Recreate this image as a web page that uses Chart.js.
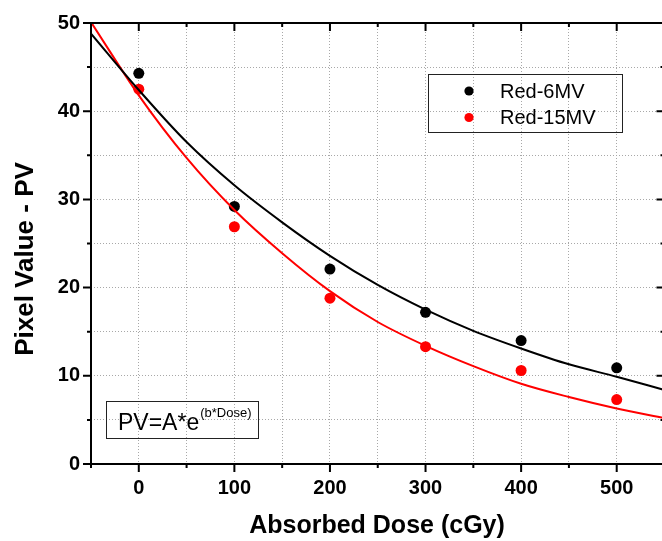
<!DOCTYPE html>
<html>
<head>
<meta charset="utf-8">
<script src="https://cdn.jsdelivr.net/npm/chart.js@4/dist/chart.umd.min.js"></script>
<style>
  html, body { margin: 0; padding: 0; background: #fff; overflow: hidden; }
  #wrap { width: 670px; height: 541px; }
</style>
</head>
<body>
<div id="wrap"><canvas id="doseChart" width="670" height="541"></canvas></div>
<script>
// measured points
const doses = [0, 100, 200, 300, 400, 500];
const red6MV = [44.3, 29.2, 22.1, 17.2, 14.0, 10.9];
const red15MV = [42.5, 26.9, 18.8, 13.3, 10.6, 7.3];

// fitted curves, every 50 cGy
const fitDoses = [-50, 0, 50, 100, 150, 200, 250, 300, 350, 400, 450, 500, 550];
const fit6MV = [48.8, 42.4, 36.5, 31.6, 27.4, 23.6, 20.3, 17.5, 15.1, 13.1, 11.3, 9.9, 8.4];
const fit15MV = [50.1, 41.8, 34.7, 28.8, 23.9, 19.6, 16.1, 13.4, 11.1, 9.1, 7.6, 6.3, 5.2];

const seriesNames = ['Red-6MV', 'Red-15MV'];
const seriesColors = ['#000000', '#ff0000'];
const xLabelTicks = [0, 100, 200, 300, 400, 500];
const yLabelTicks = [0, 10, 20, 30, 40, 50];

const toXY = (xs, ys) => xs.map((x, i) => ({ x: x, y: ys[i] }));
const FONT = '"Liberation Sans", Arial, sans-serif';

// frame, tick marks, titles, legend and equation box
const decorations = {
    id: 'decorations',
    afterDraw(chart) {
        const ctx = chart.ctx;
        const a = chart.chartArea;
        const xs = chart.scales.x, ys = chart.scales.y;
        ctx.save();
        ctx.strokeStyle = '#000';
        ctx.lineWidth = 2;
        ctx.strokeRect(a.left, a.top, a.right - a.left, a.bottom - a.top);

        ctx.beginPath();
        xs.ticks.forEach(t => {
            const px = xs.getPixelForValue(t.value);
            const major = xLabelTicks.includes(t.value);
            const len = major ? 8 : 4;
            ctx.moveTo(px, a.bottom); ctx.lineTo(px, a.bottom + len);
            ctx.moveTo(px, a.top); ctx.lineTo(px, a.top + len);
        });
        ys.ticks.forEach(t => {
            const py = ys.getPixelForValue(t.value);
            const major = yLabelTicks.includes(t.value);
            const len = major ? 8 : 4;
            ctx.moveTo(a.left, py); ctx.lineTo(a.left - len, py);
            ctx.moveTo(a.right, py); ctx.lineTo(a.right - len, py);
        });
        ctx.stroke();

        // axis titles
        ctx.fillStyle = '#000';
        ctx.font = 'bold 25px ' + FONT;
        ctx.textAlign = 'center';
        ctx.textBaseline = 'alphabetic';
        ctx.fillText('Absorbed Dose (cGy)', 377, 533);
        ctx.save();
        ctx.translate(33, 259);
        ctx.rotate(-Math.PI / 2);
        ctx.font = 'bold 26px ' + FONT;
        ctx.fillText('Pixel Value - PV', 0, 0);
        ctx.restore();

        // legend
        ctx.lineWidth = 1;
        ctx.strokeStyle = '#222';
        ctx.strokeRect(428.5, 74.5, 194, 58);
        ctx.font = '20px ' + FONT;
        ctx.textAlign = 'left';
        ctx.textBaseline = 'middle';
        seriesNames.forEach((name, i) => {
            const cy = 91 + i * 26.5;
            ctx.fillStyle = seriesColors[i];
            ctx.beginPath();
            ctx.arc(469, cy, 4.6, 0, Math.PI * 2);
            ctx.fill();
            ctx.fillStyle = '#000';
            ctx.fillText(name, 500, cy + 1);
        });

        // equation box
        ctx.strokeRect(106.5, 401.5, 152, 37);
        ctx.textBaseline = 'alphabetic';
        ctx.font = '23px ' + FONT;
        ctx.fillText('PV=A*e', 118, 430);
        const w = ctx.measureText('PV=A*e').width;
        ctx.font = '13px ' + FONT;
        ctx.fillText('(b*Dose)', 118 + w + 1, 417);
        ctx.restore();
    }
};

const ctx = document.getElementById('doseChart').getContext('2d');
new Chart(ctx, {
    type: 'scatter',
    data: {
        datasets: [
            {
                label: seriesNames[0] + ' fit',
                data: toXY(fitDoses, fit6MV),
                showLine: true,
                borderColor: seriesColors[0],
                borderWidth: 2,
                pointRadius: 0,
                cubicInterpolationMode: 'monotone'
            },
            {
                label: seriesNames[1] + ' fit',
                data: toXY(fitDoses, fit15MV),
                showLine: true,
                borderColor: seriesColors[1],
                borderWidth: 2,
                pointRadius: 0,
                cubicInterpolationMode: 'monotone'
            },
            {
                label: seriesNames[0],
                data: toXY(doses, red6MV),
                backgroundColor: seriesColors[0],
                borderColor: seriesColors[0],
                pointRadius: 5.5,
                borderWidth: 0
            },
            {
                label: seriesNames[1],
                data: toXY(doses, red15MV),
                backgroundColor: seriesColors[1],
                borderColor: seriesColors[1],
                pointRadius: 5.5,
                borderWidth: 0
            }
        ]
    },
    options: {
        responsive: false,
        animation: false,
        layout: { padding: { left: 0, right: 0, top: 18, bottom: 0 } },
        plugins: {
            legend: { display: false },
            tooltip: { enabled: false }
        },
        scales: {
            x: {
                type: 'linear',
                min: -50,
                max: 550,
                afterFit: s => { s.height = 77; s.paddingRight = 0; s.paddingLeft = 0; },
                ticks: {
                    stepSize: 50,
                    padding: 12,
                    color: '#000',
                    font: { family: FONT, size: 20, weight: 'bold' },
                    callback: v => xLabelTicks.includes(v) ? String(v) : ''
                },
                grid: { color: '#a8a8a8', lineWidth: 1, drawTicks: false },
                border: { display: false, dash: [1, 2] }
            },
            y: {
                type: 'linear',
                min: 0,
                max: 50,
                afterFit: s => { s.width = 91; },
                ticks: {
                    stepSize: 5,
                    padding: 11,
                    color: '#000',
                    font: { family: FONT, size: 20, weight: 'bold' },
                    callback: v => yLabelTicks.includes(v) ? String(v) : ''
                },
                grid: { color: '#a8a8a8', lineWidth: 1, drawTicks: false },
                border: { display: false, dash: [1, 2] }
            }
        }
    },
    plugins: [decorations]
});
</script>
</body>
</html>
